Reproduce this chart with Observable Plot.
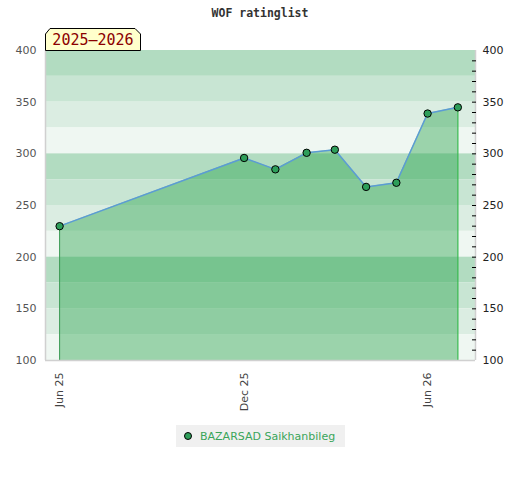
<!DOCTYPE html>
<html>
<head>
<meta charset="utf-8">
<script src="https://cdn.jsdelivr.net/npm/d3@7"></script>
<script src="https://cdn.jsdelivr.net/npm/@observablehq/plot@0.6"></script>
<style>
  body { margin: 0; background: #fff; font-family: "DejaVu Sans", sans-serif; }
  #wrap { position: relative; width: 520px; height: 480px; }
  #title { height: 25px; text-align: center; font: bold 11.5px "DejaVu Sans Mono", monospace; color: #333; line-height: 26px; }
  #season { position: absolute; left: 45px; top: 28px; }
  #legend { position: absolute; left: 176px; top: 425px; width: 169px; height: 22px; background: #f0f0f0;
            font: 11px "DejaVu Sans", sans-serif; color: #3aa55a; display: flex; align-items: center; }
  #legend .dot { width: 6px; height: 6px; border-radius: 50%; background: #2e9e5a; border: 1px solid #000; margin: 0 8px 0 8px; }
</style>
</head>
<body>
<div id="wrap">
  <div id="title">WOF ratinglist</div>
  <div id="chart"></div>
  <svg id="season" width="96" height="23">
    <polygon points="5,0.5 90,0.5 95.5,6 95.5,22.5 0.5,22.5 0.5,6" fill="#ffffcc" stroke="#000" stroke-width="1"/>
    <text x="48" y="17" text-anchor="middle" font-family="DejaVu Sans Mono, monospace" font-size="15" fill="#8b0000">2025–2026</text>
  </svg>
  <div id="legend"><span class="dot"></span><span>BAZARSAD Saikhanbileg</span></div>
</div>
<script>
const player = "BAZARSAD Saikhanbileg";
const dates = ["2025-06-01","2025-12-01","2026-01-01","2026-02-01","2026-03-01","2026-04-01","2026-05-01","2026-06-01","2026-07-01"];
const ratings = [230, 296, 285, 301, 304, 268, 272, 339, 345];
const xTickDates = ["2025-06-01","2025-12-01","2026-06-01"];
const yLabelTicks = [100, 150, 200, 250, 300, 350, 400];
const yMinorTicks = [110,120,130,140,150,160,170,180,190,200,210,220,230,240,250,260,270,280,290,300,310,320,330,340,350,360,370,380,390];
const bandEdges = [400, 375, 350, 325, 300, 275, 250, 225, 200, 175, 150, 125, 100];
const bandColors = ["#b2dcc1", "#c8e5d3", "#dbede2", "#eff7f2"];

const data = dates.map((d, i) => ({date: new Date(d), rating: ratings[i]}));
const bands = bandEdges.slice(0, -1).map((top, i) => ({top, bottom: bandEdges[i + 1], color: bandColors[i % 4]}));
const xDomain = [new Date("2025-05-18T00:00Z"), new Date("2026-07-18T12:00Z")];
const first = data[0], last = data[data.length - 1];

const chart = Plot.plot({
  width: 520,
  height: 395,
  marginTop: 25,
  marginBottom: 60,
  marginLeft: 45,
  marginRight: 45,
  style: {fontFamily: "DejaVu Sans, sans-serif", fontSize: "11px", background: "transparent"},
  x: {type: "utc", domain: xDomain},
  y: {domain: [100, 400]},
  marks: [
    Plot.rect(bands, {y1: "bottom", y2: "top", fill: "color"}),
    Plot.areaY(data, {x: "date", y1: 100, y2: "rating", fill: "rgb(37,161,74)", fillOpacity: 0.42}),
    Plot.ruleX([first], {x: "date", y1: 100, y2: "rating", stroke: "#3c9a55", strokeWidth: 1}),
    Plot.ruleX([last], {x: "date", y1: 100, y2: "rating", stroke: "#2fb548", strokeWidth: 1.2}),
    Plot.line(data, {x: "date", y: "rating", stroke: "#5b9bd5", strokeWidth: 1.5}),
    Plot.dot(data, {x: "date", y: "rating", r: 3.7, fill: "#2e9e5a", stroke: "#000", strokeWidth: 1}),
    Plot.ruleY([100], {stroke: "#d0d0d0", strokeWidth: 1.5}),
    Plot.ruleX(xDomain, {stroke: "#d0d0d0", strokeWidth: 1.5}),
    Plot.axisY({anchor: "left", ticks: yLabelTicks, tickSize: 0, tickPadding: 9, fill: "#555", label: null}),
    Plot.axisY({anchor: "right", ticks: yLabelTicks, tickSize: 0, tickPadding: 7, fill: "#222", label: null}),
    Plot.axisY({anchor: "right", ticks: yMinorTicks, tickSize: 4, dx: -4, tickFormat: () => "", stroke: "#000", label: null}),
    Plot.axisX({ticks: xTickDates.map(d => new Date(d)), tickFormat: d3.utcFormat("%b %y"), tickRotate: -90, tickSize: 0, tickPadding: 12, fill: "#444", label: null})
  ]
});
document.getElementById("chart").appendChild(chart);
</script>
</body>
</html>
